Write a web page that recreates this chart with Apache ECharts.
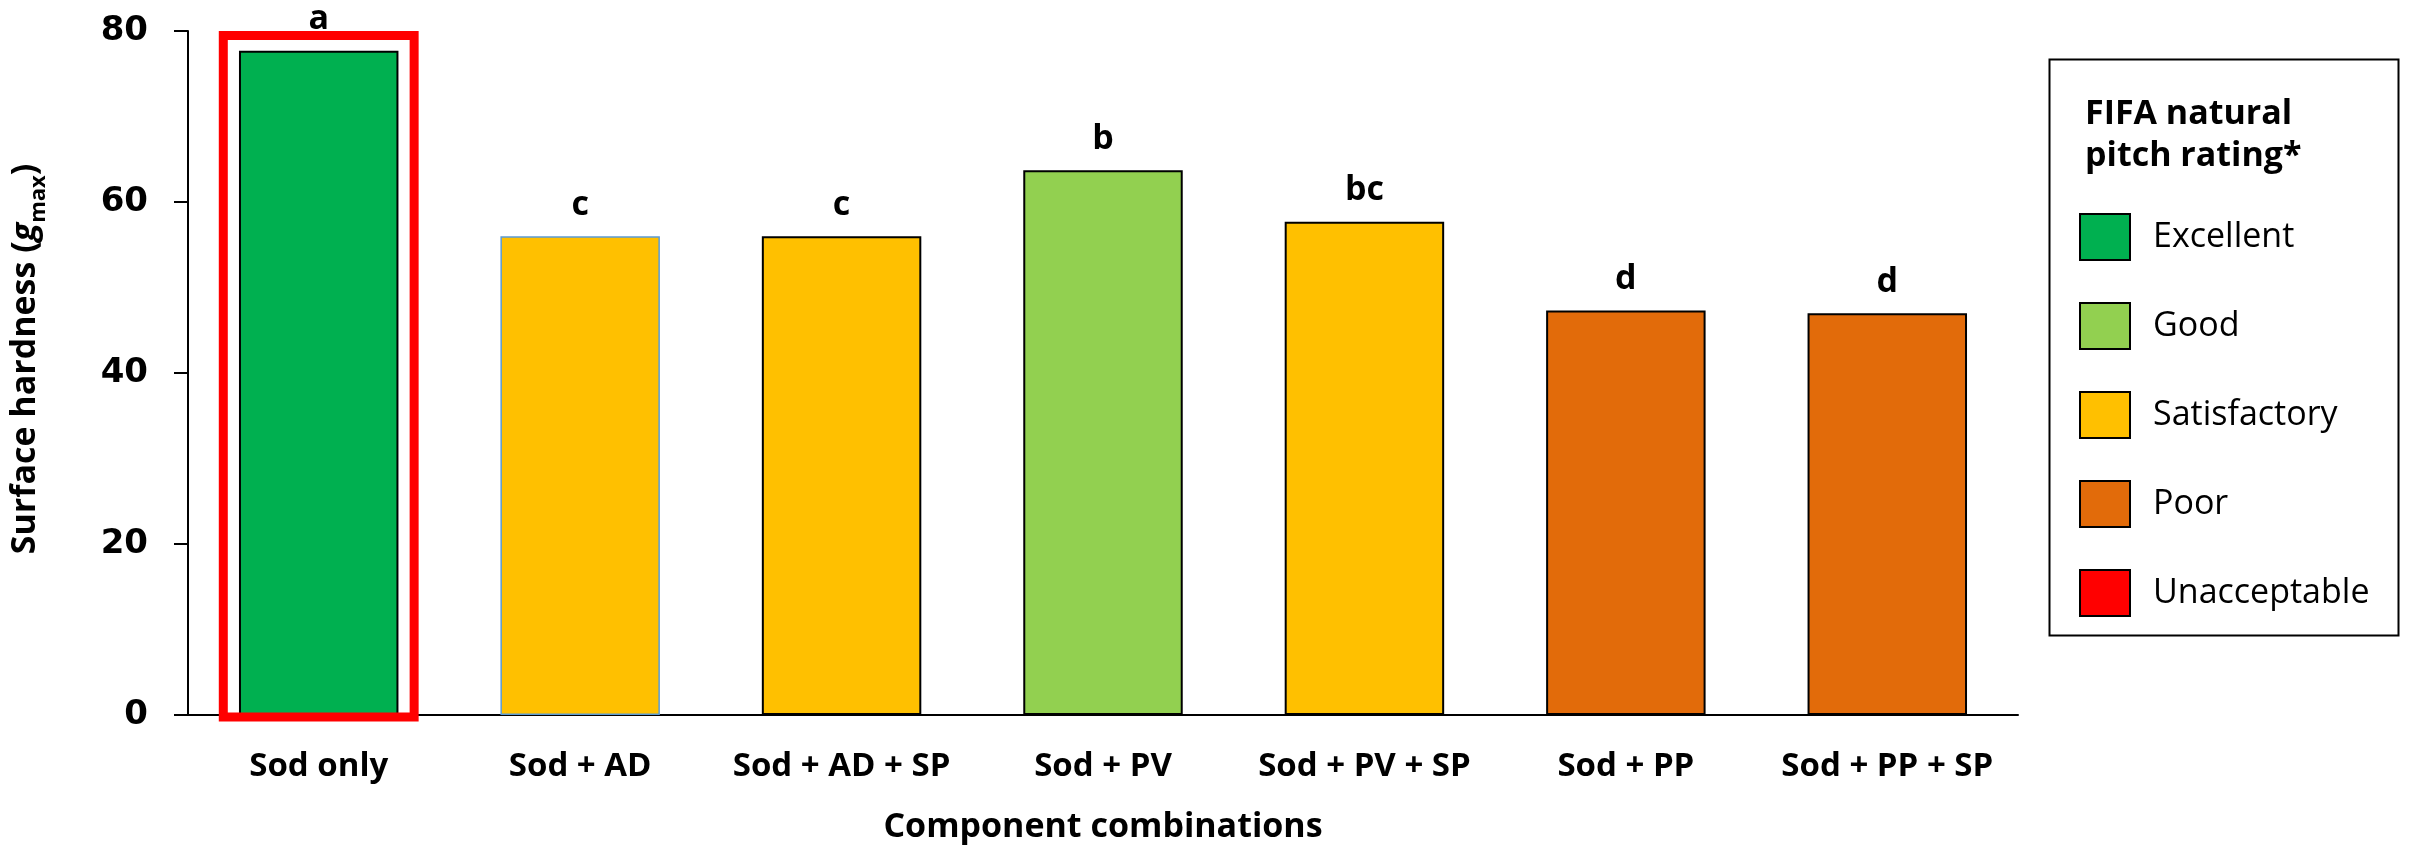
<!DOCTYPE html>
<html>
<head>
<meta charset="utf-8">
<script src="https://cdn.jsdelivr.net/npm/echarts@6/dist/echarts.min.js"></script>
<style>
  html, body { margin: 0; padding: 0; background: #fff; }
  #chart { width: 2419px; height: 850px; }
</style>
</head>
<body>
<div id="chart"></div>
<script>
const categories = ['Sod only', 'Sod + AD', 'Sod + AD + SP', 'Sod + PV', 'Sod + PV + SP', 'Sod + PP', 'Sod + PP + SP'];
const hardness = [77.7, 56.0, 56.0, 63.7, 57.7, 47.3, 47.0];
const letters = ['a', 'c', 'c', 'b', 'bc', 'd', 'd'];
const barRating = ['Excellent', 'Satisfactory', 'Satisfactory', 'Good', 'Satisfactory', 'Poor', 'Poor'];
const ratingNames = ['Excellent', 'Good', 'Satisfactory', 'Poor', 'Unacceptable'];
const ratingColors = ['#00B050', '#92D050', '#FFC000', '#E26B0A', '#FF0000'];
const highlighted = ['Sod only'];
const yTicks = [0, 20, 40, 60, 80];

const font = '"Open Sans", "DejaVu Sans", sans-serif';
const yMax = yTicks[yTicks.length - 1];

const chart = echarts.init(document.getElementById('chart'));

const barSeries = ratingNames.map((name, k) => ({
  name,
  type: 'bar',
  stack: 'rating',
  barWidth: '61%',
  itemStyle: { color: ratingColors[k], borderColor: '#000', borderWidth: 2 },
  label: {
    show: true,
    position: 'top',
    distance: 14,
    formatter: (p) => letters[p.dataIndex],
    fontFamily: font,
    fontWeight: 'bold',
    fontSize: 34,
    color: '#000',
  },
  data: hardness.map((v, i) => {
    if (barRating[i] !== name) return '-';
    // the second bar has a thin blue outline in the original
    if (i === 1) return { value: v, itemStyle: { borderColor: '#5B9BD5', borderWidth: 1.5 } };
    return v;
  }),
}));

chart.setOption({
  animation: false,
  backgroundColor: '#fff',
  grid: { left: 188, right: 401, top: 31, bottom: 135, containLabel: false, outerBoundsMode: 'none' },
  title: {
    text: 'FIFA natural\npitch rating*',
    left: 2080,
    top: 88,
    textStyle: { fontFamily: font, fontWeight: 'bold', fontSize: 34, lineHeight: 42, color: '#000' },
  },
  legend: {
    data: ratingNames,
    orient: 'vertical',
    left: 2074,
    top: 208,
    icon: 'rect',
    itemWidth: 50,
    itemHeight: 46,
    itemGap: 41,
    selectedMode: false,
    textStyle: { fontFamily: font, fontSize: 34, color: '#000', padding: [0, 0, 0, 18] },
  },
  graphic: [
    {
      type: 'rect',
      left: 2047,
      top: 57,
      shape: { width: 349, height: 576 },
      style: { fill: 'none', stroke: '#000', lineWidth: 2 },
    },
  ],
  xAxis: {
    type: 'category',
    data: categories,
    name: 'Component combinations',
    nameLocation: 'middle',
    nameGap: 95,
    nameTextStyle: { fontFamily: font, fontWeight: 'bold', fontSize: 34, color: '#000' },
    axisLine: { lineStyle: { color: '#000', width: 2 } },
    axisTick: { show: false },
    axisLabel: { fontFamily: font, fontWeight: 'bold', fontSize: 33, color: '#000', margin: 35, interval: 0 },
  },
  yAxis: {
    type: 'value',
    min: 0,
    max: yMax,
    interval: 20,
    name: '{b|Surface hardness (}{i|g}{s|max}{b|)}',
    nameLocation: 'middle',
    nameGap: 138,
    nameRotate: 90,
    nameTextStyle: {
      padding: [0, 0, 0, 28],
      rich: {
        b: { fontFamily: font, fontWeight: 'bold', fontSize: 34, color: '#000', lineHeight: 50 },
        i: { fontFamily: font, fontWeight: 'bold', fontStyle: 'italic', fontSize: 34, color: '#000', lineHeight: 50 },
        s: { fontFamily: font, fontWeight: 'bold', fontSize: 22, color: '#000', verticalAlign: 'bottom', lineHeight: 22 },
      },
    },
    axisLine: { show: true, lineStyle: { color: '#000', width: 2 } },
    axisTick: { show: true, length: 14, lineStyle: { color: '#000', width: 2 } },
    splitLine: { show: false },
    axisLabel: { fontFamily: '"DejaVu Sans", sans-serif', fontWeight: 'bold', fontSize: 34, color: '#000', margin: 40 },
  },
  series: [
    ...barSeries,
    {
      // red frame around the highlighted bar
      type: 'custom',
      name: 'highlight',
      silent: true,
      z: 5,
      data: highlighted.map((c) => [categories.indexOf(c), yMax]),
      renderItem(params, api) {
        const lw = 9;
        const top = api.coord([api.value(0), api.value(1)]);
        const base = api.coord([api.value(0), 0]);
        const w = api.size([1, 0])[0] * 0.73;
        return {
          type: 'rect',
          shape: { x: top[0] - w / 2, y: top[1] + lw / 2, width: w, height: base[1] - top[1] - lw / 2 + 2 },
          style: { fill: 'none', stroke: '#FF0000', lineWidth: lw },
        };
      },
    },
  ],
});
</script>
</body>
</html>
